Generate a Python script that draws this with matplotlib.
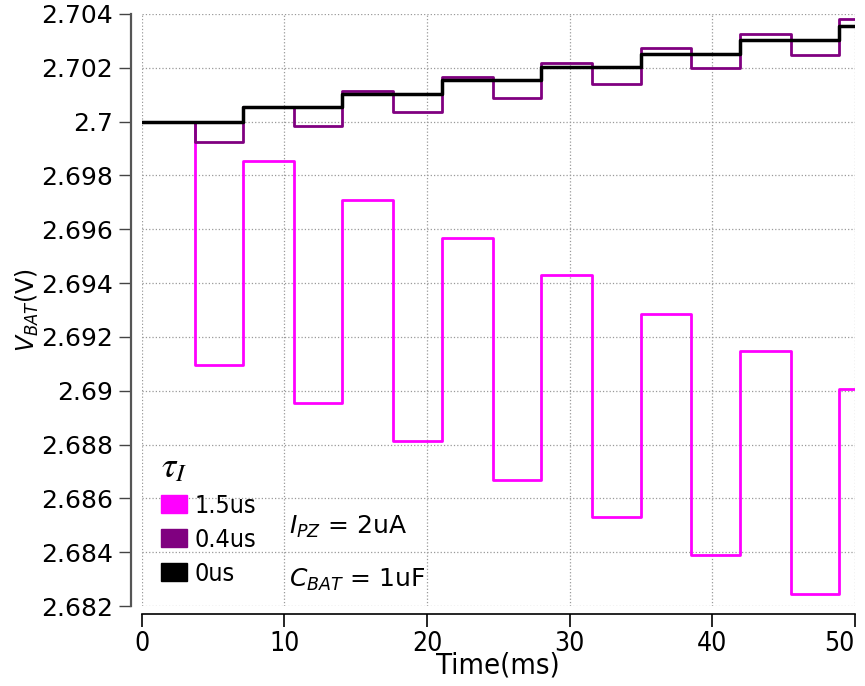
import numpy as np
import matplotlib
matplotlib.use("Agg")
import matplotlib.pyplot as plt
from matplotlib.patches import Patch
from matplotlib.ticker import FuncFormatter
from matplotlib.font_manager import FontProperties

# switching instants (ms); the battery voltage changes at each of these
t_edges = [0, 3.70, 7.09, 10.69, 14.06, 17.64, 21.05, 24.61, 28.01,
           31.59, 35.02, 38.53, 41.94, 45.54, 48.93]
t_ideal = [0, 7.09, 14.06, 21.05, 28.01, 35.02, 41.94, 48.93]
t_end = 50

v_15us = [2.7, 2.69094, 2.69854, 2.68954, 2.69710, 2.68812, 2.69566, 2.68669,
          2.69430, 2.68530, 2.69287, 2.68389, 2.69146, 2.68246, 2.69005]
v_04us = [2.7, 2.69923, 2.70056, 2.69984, 2.70113, 2.70036, 2.70167, 2.70088,
          2.70219, 2.70141, 2.70272, 2.70198, 2.70325, 2.70249, 2.70380]
v_0us = [2.7, 2.70056, 2.70103, 2.70156, 2.70203, 2.70253, 2.70305, 2.70355]

labels = ["1.5us", "0.4us", "0us"]
colors = ["#ff00ff", "#800080", "#000000"]

def stairs(ax, t, v, **kw):
    # step drawn up to the end of the time window
    ax.step(list(t) + [t_end], list(v) + [v[-1]], where="post", **kw)

fig = plt.figure(figsize=(8.65, 6.86), dpi=100)
ax = fig.add_axes([0.164, 0.1166, 0.824, 0.863])

stairs(ax, t_edges, v_15us, color=colors[0], lw=2.0)
stairs(ax, t_edges, v_04us, color=colors[1], lw=2.0)
stairs(ax, t_ideal, v_0us, color=colors[2], lw=2.5)

ax.set_xlim(0, 50)
ax.set_ylim(2.682, 2.704)
ax.set_xticks(np.arange(0, 51, 10))
ax.set_yticks(np.round(np.arange(2.682, 2.7041, 0.002), 3))
ax.yaxis.set_major_formatter(FuncFormatter(lambda v, p: "{:g}".format(round(v, 3))))

ax.grid(True, linestyle=":", color="#999999", lw=0.9)
ax.set_axisbelow(True)

for s in ["top", "right"]:
    ax.spines[s].set_visible(False)
ax.spines["left"].set_position(("outward", 8))
ax.spines["bottom"].set_position(("outward", 6))
ax.spines["left"].set_color("#555555")
ax.spines["left"].set_linewidth(1.6)
ax.spines["bottom"].set_linewidth(1.2)

ax.tick_params(axis="y", labelsize=18, length=9, width=1, color="#444444", pad=4)
ax.tick_params(axis="x", labelsize=19, length=9, width=1.2, pad=3)
xlabs = ax.get_xticklabels()
for lab in xlabs:
    lab.set_fontstretch("condensed")
# keep the last label inside the figure
xlabs[-1].set_horizontalalignment("right")

ax.set_xlabel("Time(ms)", fontsize=21, fontstretch="condensed", labelpad=-4)
ax.set_ylabel("$V_{BAT}$(V)", fontsize=17, labelpad=0)

handles = [Patch(facecolor=c, edgecolor=c) for c in colors]
leg = ax.legend(handles, labels, title=r"$\tau_I$", loc="lower left",
                bbox_to_anchor=(-0.005, -0.004), frameon=False,
                prop=FontProperties(size=18, stretch="condensed"),
                title_fontproperties=FontProperties(size=26, math_fontfamily="stix"),
                handlelength=1.05, handleheight=0.75,
                handletextpad=0.3, labelspacing=0.4, alignment="left")

ax.text(10.35, 2.68494, "$I_{PZ}$ = 2uA", fontsize=18, va="center")
ax.text(10.35, 2.68297, "$C_{BAT}$ = 1uF", fontsize=18, va="center")

fig.savefig("out.png", dpi=100)
